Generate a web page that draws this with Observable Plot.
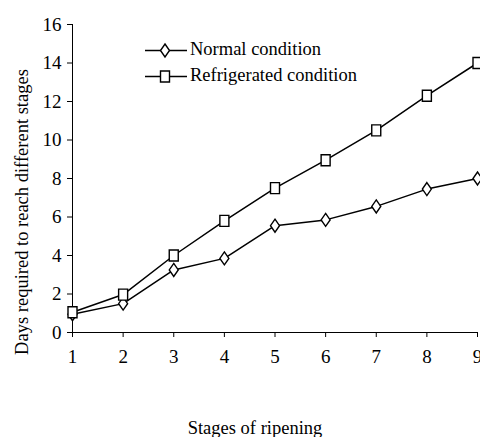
<!DOCTYPE html>
<html><head><meta charset="utf-8">
<script src="https://cdn.jsdelivr.net/npm/d3@7"></script>
<script src="https://cdn.jsdelivr.net/npm/@observablehq/plot@0.6"></script>
<style>html,body{margin:0;padding:0;background:#fff}</style>
</head><body><div id="chart"></div>
<script>
const stages = [1, 2, 3, 4, 5, 6, 7, 8, 9];
const normal = [0.95, 1.5, 3.25, 3.85, 5.55, 5.85, 6.55, 7.45, 8.0];
const refrigerated = [1.05, 1.97, 4.0, 5.8, 7.5, 8.95, 10.5, 12.3, 14.0];
const yTicks = [0, 2, 4, 6, 8, 10, 12, 14, 16];
const seriesNames = ["Normal condition", "Refrigerated condition"];
const xTitle = "Stages of ripening";
const yTitle = "Days required to reach different stages";

const FONT = "'Liberation Serif', 'Times New Roman', serif";

const diamondSym = {draw(ctx) { ctx.moveTo(0, -6.5); ctx.lineTo(4.5, 0); ctx.lineTo(0, 6.5); ctx.lineTo(-4.5, 0); ctx.closePath(); }};
const squareSym = {draw(ctx) { ctx.rect(-4.5, -5.5, 9, 11); }};

const rows = [];
stages.forEach((s, i) => {
  rows.push({stage: s, days: normal[i], series: seriesNames[0]});
});
stages.forEach((s, i) => {
  rows.push({stage: s, days: refrigerated[i], series: seriesNames[1]});
});
const nRows = rows.filter(d => d.series === seriesNames[0]);
const rRows = rows.filter(d => d.series === seriesNames[1]);

const plot = Plot.plot({
  width: 480,
  height: 437,
  marginLeft: 72,
  marginRight: 3,
  marginTop: 24,
  marginBottom: 105,
  style: {fontFamily: FONT, fontSize: "19px", color: "#000", background: "#fff", overflow: "visible"},
  x: {domain: [1, 9]},
  y: {domain: [0, 16]},
  marks: [
    Plot.ruleX([1], {stroke: "#000", strokeWidth: 1}),
    Plot.ruleY([0], {stroke: "#000", strokeWidth: 1}),
    Plot.axisY({ticks: yTicks, tickSize: 5, tickPadding: 6, label: null, stroke: "#000", fill: "#000", fontSize: 19}),
    Plot.axisX({ticks: stages, tickSize: 5, tickPadding: 12, label: null, stroke: "#000", fill: "#000", fontSize: 19}),
    Plot.line(nRows, {x: "stage", y: "days", stroke: "#000", strokeWidth: 1.5}),
    Plot.line(rRows, {x: "stage", y: "days", stroke: "#000", strokeWidth: 1.5}),
    Plot.dot(nRows, {x: "stage", y: "days", symbol: diamondSym, fill: "#fff", stroke: "#000", strokeWidth: 1.4}),
    Plot.dot(rRows, {x: "stage", y: "days", symbol: squareSym, fill: "#fff", stroke: "#000", strokeWidth: 1.4})
  ]
});

document.getElementById("chart").appendChild(plot);

// Axis titles and legend (styling overlay)
const svg = d3.select(plot);
svg.append("text")
  .attr("x", 255).attr("y", 434)
  .attr("text-anchor", "middle")
  .style("font-family", FONT).style("font-size", "18.5px").attr("fill", "#000")
  .text(xTitle);
svg.append("text")
  .attr("transform", "translate(28,212) rotate(-90)")
  .attr("text-anchor", "middle")
  .style("font-family", FONT).style("font-size", "18.5px").attr("fill", "#000")
  .text(yTitle);

const legend = svg.append("g");
const legendItems = [
  {name: seriesNames[0], sym: diamondSym, y: 50.5},
  {name: seriesNames[1], sym: squareSym, y: 76.5}
];
legendItems.forEach(item => {
  legend.append("line")
    .attr("x1", 145).attr("x2", 187).attr("y1", item.y).attr("y2", item.y)
    .attr("stroke", "#000").attr("stroke-width", 1.5);
  const p = d3.path();
  item.sym.draw(p);
  legend.append("path")
    .attr("d", p.toString())
    .attr("transform", `translate(165,${item.y})`)
    .attr("fill", "#fff").attr("stroke", "#000").attr("stroke-width", 1.4);
  legend.append("text")
    .attr("x", 190).attr("y", item.y + 4)
    .attr("text-anchor", "start")
    .style("font-family", FONT).style("font-size", "18.5px").attr("fill", "#000")
    .text(item.name);
});
</script>
</body></html>
